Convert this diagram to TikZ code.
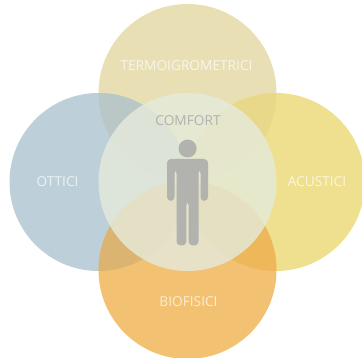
\documentclass[tikz,border=0pt]{standalone}
\usepackage{fontspec}
\setmainfont{Open Sans}
\definecolor{ctop}{HTML}{E8DFB5}
\definecolor{cleft}{HTML}{BDD0DA}
\definecolor{cright}{HTML}{EFE08F}
\definecolor{cbot}{HTML}{F2C171}
\definecolor{ccen}{HTML}{E5EADA}
\definecolor{cman}{HTML}{B2B2AE}
\tikzset{
  blob/.style={circle,minimum size=178pt,inner sep=0pt,outer sep=0pt,draw=none,fill=#1},
  lab/.style={font=\fontsize{13.7}{16}\selectfont,text=white,text opacity=.7,inner sep=0pt},
}
\begin{document}
\begin{tikzpicture}[x=1pt,y=-1pt]
\useasboundingbox (0,0) rectangle (362,358);
\clip (0,0) rectangle (362,358);
\node[blob=ctop] (top) at (187.5,93) {};
\node[blob=cleft] (left) at (98.5,182) {};
\node[blob=cright] (right) at (276,182) {};
\node[blob=cbot] (bot) at (187.5,270) {};
% overlaps
\begin{scope}\clip (187.5,93) circle (89);\fill[fill={rgb,255:red,185;green,200;blue,199}] (98.5,182) circle (89);\end{scope}
\begin{scope}\clip (187.5,93) circle (89);\fill[fill={rgb,255:red,232;green,217;blue,138}] (276,182) circle (89);\end{scope}
\begin{scope}\clip (187.5,270) circle (89);\fill[fill={rgb,255:red,218;green,180;blue,112}] (98.5,182) circle (89);\end{scope}
\begin{scope}\clip (187.5,270) circle (89);\fill[fill={rgb,255:red,238;green,184;blue,90}] (276,182) circle (89);\end{scope}
\node[blob=ccen,fill opacity=.82] (cen) at (187.5,182) {};
% person
\fill[cman] (187.6,148.5) circle (9);
\fill[cman,rounded corners=4pt] (167,201) -- (167,159) -- (208,159) -- (208,201) -- (200.5,201) -- (200.5,169) -- (198.5,169) -- (198.5,245.5) -- (188.6,245.5) -- (188.6,201) -- (186.4,201) -- (186.4,245.5) -- (176.5,245.5) -- (176.5,169) -- (174.5,169) -- (174.5,201) -- cycle;
% labels
\node[lab] (t1) at (186.5,66) {TERMOIGROMETRICI};
\node[lab,text=cman,text opacity=1] (t2) at (188,121) {COMFORT};
\node[lab] (t3) at (57.5,182) {OTTICI};
\node[lab] (t4) at (317,182) {ACUSTICI};
\node[lab] (t5) at (188.5,302) {BIOFISICI};
\end{tikzpicture}
\end{document}
